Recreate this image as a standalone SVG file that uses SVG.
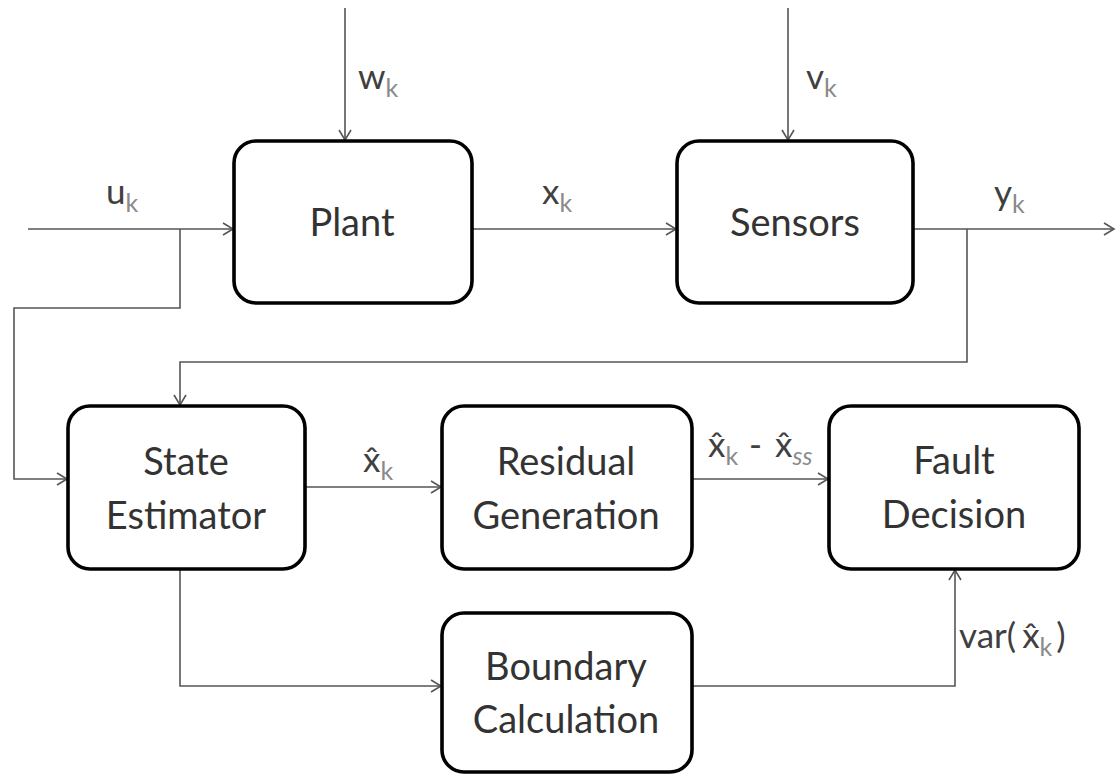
<svg xmlns="http://www.w3.org/2000/svg" width="1116" height="774" viewBox="0 0 1116 774">
<style>
.box{fill:#fff;stroke:#000;stroke-width:3.6}
.lbl{font-family:Lato,"Open Sans",sans-serif;font-size:38px;fill:#333;text-anchor:middle}
.sym{font-family:Lato,"Open Sans",sans-serif;font-size:35px;fill:#404040}
.sub{font-size:25px;fill:#8a8a8a}
.con{fill:none;stroke:#555;stroke-width:1.6}
</style>
<defs>
<marker id="arr" markerUnits="userSpaceOnUse" markerWidth="14" markerHeight="16" refX="11" refY="7" orient="auto" viewBox="0 0 14 14">
<path d="M1,1 L11,7 L1,13" fill="none" stroke="#555" stroke-width="1.6"/>
</marker>
</defs>
<rect width="1116" height="774" fill="#fff"/>
<g id="connectors">
<path class="con" d="M28,229 H233" marker-end="url(#arr)"/>
<path class="con" d="M180,229 V308 H14 V479 H67" marker-end="url(#arr)"/>
<path class="con" d="M345,8 V140" marker-end="url(#arr)"/>
<path class="con" d="M788,8 V140" marker-end="url(#arr)"/>
<path class="con" d="M472,229 H676" marker-end="url(#arr)"/>
<path class="con" d="M913,229 H1114" marker-end="url(#arr)"/>
<path class="con" d="M967,229 V362 H180 V405" marker-end="url(#arr)"/>
<path class="con" d="M305,487 H441" marker-end="url(#arr)"/>
<path class="con" d="M692,479 H828" marker-end="url(#arr)"/>
<path class="con" d="M180,569 V686 H441" marker-end="url(#arr)"/>
<path class="con" d="M692,686 H955 V570" marker-end="url(#arr)"/>
</g>
<g id="plant">
<rect class="box" x="234" y="141" width="238" height="162" rx="22"/>
<text class="lbl" x="352" y="236">Plant</text>
</g>
<g id="sensors">
<rect class="box" x="677" y="141" width="236" height="162" rx="22"/>
<text class="lbl" x="795" y="236">Sensors</text>
</g>
<g id="state-estimator">
<rect class="box" x="68" y="406" width="237" height="163" rx="22"/>
<text class="lbl" x="186" y="475">State</text>
<text class="lbl" x="186" y="529">Estimator</text>
</g>
<g id="residual-generation">
<rect class="box" x="442" y="406" width="250" height="163" rx="22"/>
<text class="lbl" x="566" y="475">Residual</text>
<text class="lbl" x="566" y="529">Generation</text>
</g>
<g id="fault-decision">
<rect class="box" x="829" y="406" width="250" height="163" rx="22"/>
<text class="lbl" x="954" y="474">Fault</text>
<text class="lbl" x="954" y="528">Decision</text>
</g>
<g id="boundary-calculation">
<rect class="box" x="442" y="613" width="250" height="159" rx="22"/>
<text class="lbl" x="566" y="680">Boundary</text>
<text class="lbl" x="566" y="733">Calculation</text>
</g>
<g id="labels">
<text class="sym" x="106" y="204">u<tspan class="sub" dy="8">k</tspan></text>
<text class="sym" x="358" y="89">w<tspan class="sub" dy="8">k</tspan></text>
<text class="sym" x="806" y="89">v<tspan class="sub" dy="8">k</tspan></text>
<text class="sym" x="542" y="204">x<tspan class="sub" dy="8">k</tspan></text>
<text class="sym" x="994" y="205">y<tspan class="sub" dy="8">k</tspan></text>
<text class="sym" x="363" y="472">x̂<tspan class="sub" dy="8">k</tspan></text>
<text class="sym" x="708" y="457">x̂<tspan class="sub" dy="8">k</tspan><tspan dy="-8" dx="2"> - </tspan><tspan dx="4">x̂</tspan><tspan class="sub" dy="8" font-style="italic">ss</tspan></text>
<text class="sym" x="959" y="648">var(<tspan dx="6">x̂</tspan><tspan class="sub" dy="8">k</tspan><tspan dy="-8" dx="4">)</tspan></text>
</g>
</svg>
